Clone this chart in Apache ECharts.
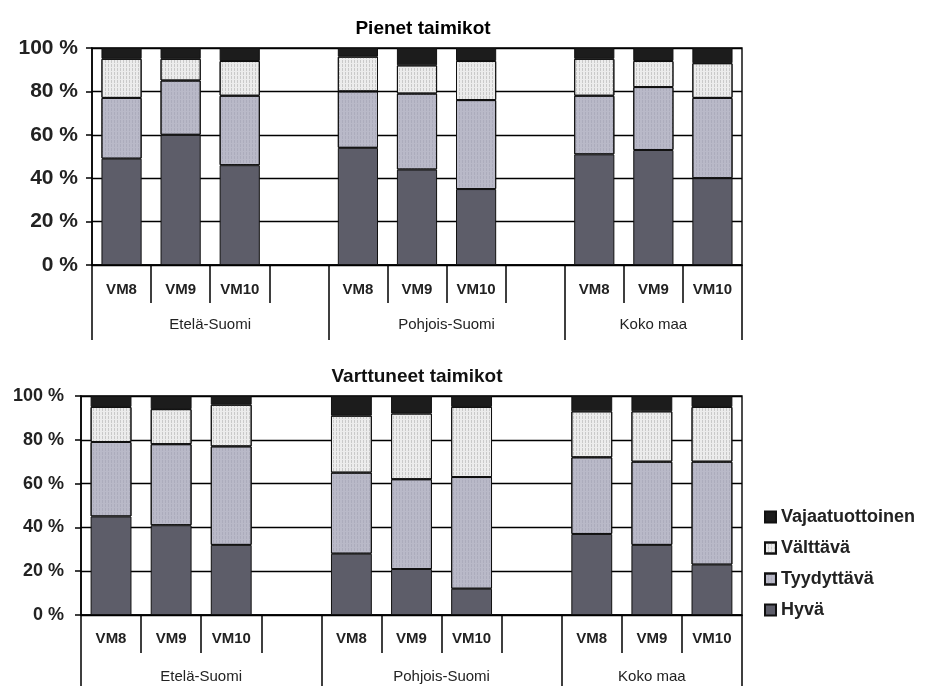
<!DOCTYPE html>
<html>
<head>
<meta charset="utf-8">
<script src="https://cdn.jsdelivr.net/npm/echarts@6/dist/echarts.min.js"></script>
<style>html,body{margin:0;padding:0;background:#fff}#c{width:928px;height:686px}</style>
</head>
<body>
<div id="c"></div>
<script>
var categories = ['VM8','VM9','VM10','','VM8','VM9','VM10','','VM8','VM9','VM10'];
var groups = ['Etelä-Suomi','Pohjois-Suomi','Koko maa'];
var groupBounds = [0,4,8,11];
var groupCenters = [2,6,9.5];
var seriesNames = ['Hyvä','Tyydyttävä','Välttävä','Vajaatuottoinen'];
var legendOrder = ['Vajaatuottoinen','Välttävä','Tyydyttävä','Hyvä'];
var titles = ['Pienet taimikot','Varttuneet taimikot'];

// Pienet taimikot
var hyva1 = [49,60,46,null,54,44,35,null,51,53,40];
var tyyd1 = [28,25,32,null,26,35,41,null,27,29,37];
var valt1 = [18,10,16,null,16,13,18,null,17,12,16];
var vaja1 = [5,5,6,null,4,8,6,null,5,6,7];
// Varttuneet taimikot
var hyva2 = [45,41,32,null,28,21,12,null,37,32,23];
var tyyd2 = [34,37,45,null,37,41,51,null,35,38,47];
var valt2 = [16,16,19,null,26,30,32,null,21,23,25];
var vaja2 = [5,6,4,null,9,8,5,null,7,7,5];

var colors = {'Hyvä':'#5d5d69','Tyydyttävä':'#b9b9c8','Välttävä':'#ececec','Vajaatuottoinen':'#1c1c1c'};
var decals = {
  'Tyydyttävä': {symbol:'rect', symbolSize:1, dashArrayX:[1,2], dashArrayY:[3,1], color:'rgba(150,150,165,0.35)'},
  'Välttävä': {symbol:'rect', symbolSize:1, dashArrayX:[1,2], dashArrayY:[3,1], color:'rgba(160,160,160,0.45)'}
};

var font = 'Liberation Sans, Arial, sans-serif';

function mkSeries(idx, data) {
  return seriesNames.map(function(n, i){
    var it = {color: colors[n], borderColor:'#111', borderWidth:1};
    if (decals[n]) it.decal = decals[n];
    return {
      name: n, type:'bar', stack:'s'+idx, xAxisIndex: idx*2, yAxisIndex: idx,
      barWidth:'68%', data: data[i], itemStyle: it
    };
  });
}

var gridDefs = [
  {left:92, right:186, top:48, height:217},
  {left:81, right:186, top:396, height:219}
];
var yFont = [21, 18];
var yMargin = [14, 17];
var xLabMargin = [17, 16];
var gLabMargin = [52, 54];
var gTickLen = [75, 71];

var xAxes = [], yAxes = [];
[0,1].forEach(function(i){
  xAxes.push({
    type:'category', gridIndex:i, data: categories,
    axisLine:{lineStyle:{color:'#000', width:1.5}},
    axisTick:{show:true, interval:0, length:38, lineStyle:{color:'#000', width:1.5}},
    axisLabel:{interval:0, margin:xLabMargin[i], fontFamily:font, fontSize:15, fontWeight:'bold', color:'#222'}
  });
  xAxes.push({
    type:'value', gridIndex:i, min:0, max:11, position:'bottom',
    axisLine:{show:false},
    splitLine:{show:false},
    axisTick:{show:true, customValues: groupBounds, length:gTickLen[i], lineStyle:{color:'#000', width:1.5}},
    axisLabel:{customValues: groupCenters, margin:gLabMargin[i], fontFamily:font, fontSize:15, color:'#222',
      formatter:function(v){ var k = groupCenters.indexOf(v); return k>=0 ? groups[k] : ''; }}
  });
  yAxes.push({
    type:'value', gridIndex:i, min:0, max:100, interval:20,
    axisLine:{show:true, lineStyle:{color:'#000', width:1.5}},
    axisTick:{show:true, length:6, lineStyle:{color:'#000', width:1.5}},
    splitLine:{show:true, lineStyle:{color:'#000', width:1.4}},
    axisLabel:{formatter:'{value} %', margin:yMargin[i], fontFamily:font, fontSize:yFont[i], fontWeight:'bold', color:'#222'}
  });
});

var option = {
  animation:false,
  backgroundColor:'#fff',
  title:[
    {text:titles[0], left:418, top:14, textAlign:'center', textStyle:{fontFamily:font, fontSize:19, fontWeight:'bold', color:'#000'}},
    {text:titles[1], left:412, top:362, textAlign:'center', textStyle:{fontFamily:font, fontSize:19, fontWeight:'bold', color:'#111'}}
  ],
  legend:{
    data: legendOrder, orient:'vertical', left:759, top:503, itemGap:13,
    icon:'rect', itemWidth:11, itemHeight:11,
    textStyle:{fontFamily:font, fontSize:18, fontWeight:'bold', color:'#222'},
    selectedMode:false
  },
  grid: gridDefs.map(function(g){ return Object.assign({show:true, borderColor:'#000', borderWidth:1.4, backgroundColor:'transparent'}, g); }),
  xAxis: xAxes,
  yAxis: yAxes,
  series: mkSeries(0, [hyva1, tyyd1, valt1, vaja1]).concat(mkSeries(1, [hyva2, tyyd2, valt2, vaja2]))
};

var chart = echarts.init(document.getElementById('c'), null, {renderer:'canvas'});
chart.setOption(option);
</script>
</body>
</html>
